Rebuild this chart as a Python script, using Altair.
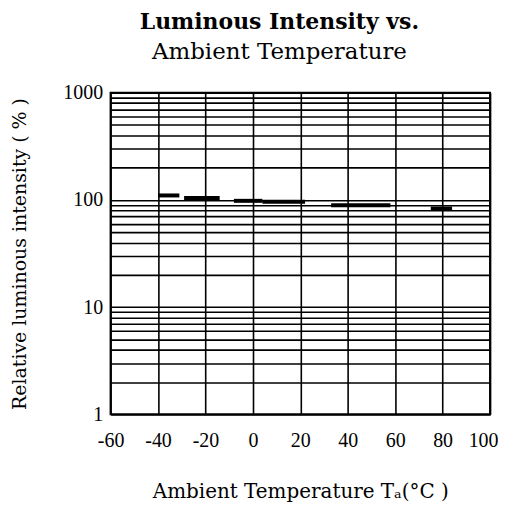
import altair as alt
import pandas as pd

# segment data (temperature start/end, relative intensity %)
seg_start = [-40, -29, -8, 4, 33, 75]
seg_end = [-31, -14, 4, 22, 58, 84]
seg_value = [110, 104, 98, 96, 89, 83]

x_ticks = [-60, -40, -20, 0, 20, 40, 60, 80, 100]
y_ticks = [m * 10 ** k for k in range(3) for m in range(1, 10)] + [1000]

df = pd.DataFrame({"t0": seg_start, "t1": seg_end, "v": seg_value})

FONT = "Liberation Serif"
TFONT = "DejaVu Serif"

chart = alt.Chart(df).mark_rule(color="black", strokeWidth=4, strokeCap="butt").encode(
    x=alt.X("t0:Q",
            scale=alt.Scale(domain=[-60, 100], nice=False, zero=False),
            axis=alt.Axis(values=x_ticks, title="Ambient Temperature Tₐ(°C )",
                          labelExpr="'' + datum.value",
                          labelAlign={"condition": {"test": "datum.value == 100", "value": "right"}, "value": "center"},
                          labelOffset={"condition": {"test": "datum.value == 100", "value": 8}, "value": 0},
                          grid=True, gridColor="black", gridWidth=1.6, gridOpacity=1,
                          ticks=False, domain=False, labelFont=FONT, labelFontSize=20,
                          labelColor="black", labelPadding=16, labelFlush=False,
                          titleFont=TFONT, titleFontSize=20, titleFontWeight="normal",
                          titleColor="black", titlePadding=31)),
    x2="t1:Q",
    y=alt.Y("v:Q",
            scale=alt.Scale(type="log", domain=[1, 1000], nice=False),
            axis=alt.Axis(values=y_ticks, title="Relative luminous intensity ( % )",
                          labelExpr="indexof(['1','10','100','1000'], datum.label) >= 0 ? datum.label : ''",
                          format="d",
                          grid=True, gridColor="black", gridWidth=1.6, gridOpacity=1,
                          ticks=False, domain=False, labelFont=FONT, labelFontSize=20,
                          labelColor="black", labelPadding=8, labelFlush=False,
                          titleFont=TFONT, titleFontSize=19, titleFontWeight="normal",
                          titleColor="black", titlePadding=33)),
).properties(
    width=381,
    height=323,
    autosize=alt.AutoSizeParams(type="none"),
    padding={"left": 103, "top": 84, "right": 10, "bottom": 88},
    title=alt.TitleParams(
        text="Luminous Intensity vs.",
        subtitle="Ambient Temperature",
        font=TFONT, fontSize=22, fontWeight="bold", color="black",
        subtitleFont=TFONT, subtitleFontSize=23, subtitleColor="black",
        subtitlePadding=7, anchor="middle", offset=18, dx=-21,
    ),
).configure_view(stroke="black", strokeWidth=2)

chart.save("out.html", embed_options={"renderer": "svg", "actions": False})
